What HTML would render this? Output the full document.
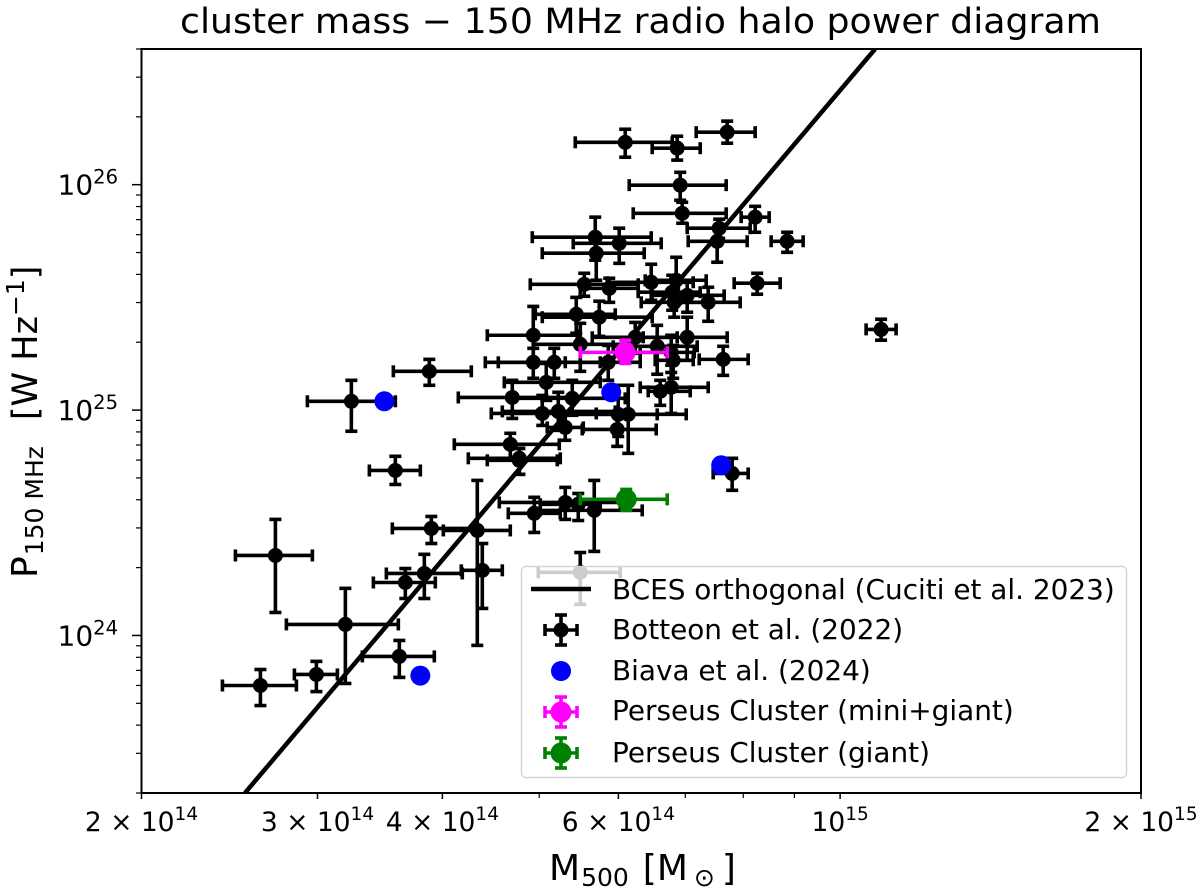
<!DOCTYPE html>
<html lang="en">
<head>
<meta charset="utf-8">
<title>cluster mass - 150 MHz radio halo power diagram</title>
<style>
html,body{margin:0;padding:0;background:#fff;width:1200px;height:891px;overflow:hidden}
svg{display:block;font-family:"DejaVu Sans",sans-serif;fill:#000}
</style>
</head>
<body>
<svg id="chart" width="1200" height="891" viewBox="0 0 1200 891" xmlns="http://www.w3.org/2000/svg">
  <defs><clipPath id="plot-clip"><rect x="141.5" y="49" width="999.5" height="744"/></clipPath></defs>
  <rect x="0" y="0" width="1200" height="891" fill="#fff"/>
  <text x="180" y="33" font-size="35" textLength="921" lengthAdjust="spacingAndGlyphs">cluster mass − 150 MHz radio halo power diagram</text>
  <g id="marks" clip-path="url(#plot-clip)"></g>
  <g id="axes"></g>
  <text x="549" y="880" font-size="36">M<tspan font-size="25" dy="6" dx="1">500</tspan><tspan dy="-6" dx="14">[M</tspan><tspan font-size="25" dy="6" dx="6">⊙</tspan><tspan dy="-6" dx="7">]</tspan></text>
  <text transform="translate(37 578) rotate(-90)" font-size="36">P<tspan font-size="25" dy="6" dx="1">150 MHz</tspan><tspan font-size="35" dy="-6" dx="26">[W Hz</tspan><tspan font-size="25" dy="-13">−1</tspan><tspan font-size="35" dy="13">]</tspan></text>
  <g id="legend">
    <rect x="521.5" y="566.5" width="605" height="211" rx="4" fill="#fff" fill-opacity="0.8" stroke="#d6d6d6" stroke-width="1.5"/>
    <g>
      <line x1="531" x2="591" y1="589" y2="589" stroke="#000" stroke-width="4.5"/>
      <text x="612" y="599" font-size="27.9">BCES orthogonal (Cuciti et al. 2023)</text>
    </g>
    <g id="legend-botteon">
      <text x="612" y="639" font-size="27.9">Botteon et al. (2022)</text>
    </g>
    <g>
      <circle cx="561" cy="671" r="10" fill="#0000ff"/>
      <text x="612" y="680" font-size="27.9">Biava et al. (2024)</text>
    </g>
    <g id="legend-mini">
      <text x="612" y="720" font-size="27.9">Perseus Cluster (mini+giant)</text>
    </g>
    <g id="legend-giant">
      <text x="612" y="762" font-size="27.9">Perseus Cluster (giant)</text>
    </g>
  </g>
</svg>
<script>
// All masses and powers are log10 values (M500 in solar masses, P150 in W/Hz).
const fitLogMass = [14.4045, 15.0350];
const fitLogPower = [23.301, 26.602];

const botteonLogMass = [14.785,14.837,14.887,14.840,14.842,14.915,14.879,14.877,14.947,14.755,14.779,14.756,14.917,14.744,14.769,14.811,14.836,14.832,14.847,14.834,14.868,14.736,14.759,14.693,14.740,14.795,14.847,14.817,14.831,14.833,14.883,14.693,14.714,15.041,14.589,14.768,14.706,14.732,14.820,14.831,14.672,14.702,14.718,14.725,14.778,14.788,14.777,14.670,14.679,14.679,14.892,14.694,14.725,14.738,14.754,14.637,14.591,14.584,14.642,14.565,14.435,14.505,14.559,14.476,14.420,14.555,14.511,14.740];
const botteonLogMassLow = [14.735,14.812,14.856,14.789,14.793,14.901,14.847,14.848,14.931,14.692,14.733,14.702,14.894,14.690,14.740,14.767,14.805,14.798,14.812,14.801,14.837,14.695,14.702,14.647,14.693,14.752,14.803,14.773,14.800,14.815,14.859,14.645,14.658,15.026,14.553,14.740,14.664,14.673,14.808,14.800,14.618,14.651,14.662,14.707,14.720,14.718,14.742,14.614,14.628,14.647,14.873,14.668,14.659,14.700,14.700,14.603,14.552,14.546,14.621,14.533,14.395,14.446,14.522,14.454,14.382,14.529,14.467,14.698];
const botteonLogMassHigh = [14.832,14.860,14.915,14.886,14.886,14.929,14.910,14.907,14.963,14.811,14.821,14.804,14.940,14.798,14.798,14.853,14.866,14.860,14.884,14.867,14.900,14.775,14.812,14.737,14.783,14.837,14.887,14.857,14.854,14.853,14.908,14.725,14.760,15.056,14.631,14.800,14.760,14.785,14.850,14.868,14.730,14.756,14.775,14.743,14.817,14.846,14.816,14.719,14.720,14.717,14.908,14.720,14.780,14.760,14.802,14.670,14.636,14.622,14.662,14.595,14.472,14.558,14.594,14.497,14.456,14.580,14.555,14.780];
const botteonLogPower = [26.188,26.162,26.233,25.998,25.873,25.856,25.807,25.749,25.749,25.767,25.740,25.696,25.563,25.558,25.540,25.567,25.576,25.523,25.509,25.478,25.478,25.425,25.412,25.332,25.292,25.323,25.323,25.283,25.256,25.221,25.225,25.212,25.212,25.358,25.172,25.212,25.123,25.052,25.083,25.101,25.056,24.985,24.994,24.923,24.981,24.981,24.914,24.848,24.786,24.777,24.719,24.542,24.590,24.582,24.555,24.466,24.475,24.275,24.289,24.235,24.355,24.049,23.907,23.827,23.778,24.732,25.039,24.280];
const botteonLogPowerLow = [26.122,26.109,26.184,25.931,25.829,25.789,25.762,25.656,25.700,25.665,25.651,25.576,25.514,25.505,25.478,25.487,25.474,25.443,25.434,25.412,25.394,25.341,25.327,25.216,25.172,25.252,25.221,25.159,25.167,25.141,25.154,25.141,25.141,25.310,25.110,25.132,25.043,24.977,25.021,24.985,24.963,24.932,24.910,24.866,24.883,24.808,24.839,24.786,24.715,24.715,24.644,24.457,24.515,24.510,24.373,23.956,24.408,24.164,24.120,24.164,24.102,23.787,23.814,23.751,23.689,24.670,24.906,24.138];
const botteonLogPowerHigh = [26.246,26.215,26.282,26.055,25.922,25.904,25.847,25.807,25.789,25.856,25.807,25.762,25.607,25.607,25.585,25.647,25.678,25.598,25.576,25.540,25.545,25.500,25.483,25.460,25.385,25.389,25.412,25.376,25.332,25.287,25.283,25.274,25.274,25.403,25.225,25.287,25.207,25.132,25.132,25.199,25.132,25.065,25.079,24.977,25.110,25.110,24.977,24.897,24.830,24.830,24.786,24.613,24.657,24.630,24.688,24.688,24.528,24.360,24.408,24.297,24.515,24.209,23.978,23.885,23.849,24.795,25.132,24.368];

const biavaLogMass = [14.544,14.771,14.881,14.580];
const biavaLogPower = [25.039,25.079,24.755,23.822];

const perseusNames = ["mini-giant","giant"];
const perseusColors = ["#ff00ff","#008000"];
const perseusLogMass = [14.785,14.786];
const perseusLogMassLow = [14.740,14.740];
const perseusLogMassHigh = [14.827,14.827];
const perseusLogPower = [25.256,24.604];
const perseusLogPowerLow = [25.207,24.555];
const perseusLogPowerHigh = [25.310,24.648];

const xMajorTicks = [14.30103,14.47712,14.60206,14.77815,15,15.30103];
const xTickPrefix = ["2 × 10","3 × 10","4 × 10","6 × 10","10","2 × 10"];
const xTickExponent = ["14","14","14","14","15","15"];
const xMinorTicks = [14.69897,14.84510,14.90309,14.95424];
const yMajorTicks = [26,25,24];
const yTickPrefix = ["10","10","10"];
const yTickExponent = ["26","25","24"];
const yMinorDigits = [2,3,4,5,6,7,8,9];
const yMinorDecades = [23,24,25,26];

const xDomain = [14.30103,15.30103];
const yDomain = [23.30103,26.60206];
function xScale(v){ return 141.5 + (v - xDomain[0]) / (xDomain[1] - xDomain[0]) * 999.5; }
function yScale(v){ return 793 - (v - yDomain[0]) / (yDomain[1] - yDomain[0]) * 744; }

const NS = "http://www.w3.org/2000/svg";
function mk(tag, parent, attrs){
  const el = document.createElementNS(NS, tag);
  for (const k in attrs) el.setAttribute(k, attrs[k]);
  parent.appendChild(el);
  return el;
}
function bars(g, cx, cy, xl, xr, yt, yb, color){
  const w = {stroke: color, "stroke-width": 3.6};
  mk("line", g, Object.assign({x1: xl, x2: xr, y1: cy, y2: cy}, w));
  mk("line", g, Object.assign({x1: cx, x2: cx, y1: yt, y2: yb}, w));
  mk("line", g, Object.assign({x1: xl, x2: xl, y1: cy - 6, y2: cy + 6}, w));
  mk("line", g, Object.assign({x1: xr, x2: xr, y1: cy - 6, y2: cy + 6}, w));
  mk("line", g, Object.assign({x1: cx - 6, x2: cx + 6, y1: yt, y2: yt}, w));
  mk("line", g, Object.assign({x1: cx - 6, x2: cx + 6, y1: yb, y2: yb}, w));
}

const marks = document.getElementById("marks");
const fitLine = mk("line", marks, {x1: xScale(fitLogMass[0]), x2: xScale(fitLogMass[1]), y1: yScale(fitLogPower[0]), y2: yScale(fitLogPower[1]), stroke: "#000", "stroke-width": 4.5});



botteonLogMass.forEach(function(m, i){
  const g = mk("g", marks, {});
  
  
  const cx = xScale(m), cy = yScale(botteonLogPower[i]);
  bars(g, cx, cy, xScale(botteonLogMassLow[i]), xScale(botteonLogMassHigh[i]), yScale(botteonLogPowerHigh[i]), yScale(botteonLogPowerLow[i]), "#000");
  mk("circle", g, {cx: cx, cy: cy, r: 7.5, fill: "#000"});
});

biavaLogMass.forEach(function(m, i){
  const c = mk("circle", marks, {cx: xScale(m), cy: yScale(biavaLogPower[i]), r: 10, fill: "#0000ff"});
  
  
});

perseusLogMass.forEach(function(m, i){
  const g = mk("g", marks, {});
  
  
  const cx = xScale(m), cy = yScale(perseusLogPower[i]);
  bars(g, cx, cy, xScale(perseusLogMassLow[i]), xScale(perseusLogMassHigh[i]), yScale(perseusLogPowerHigh[i]), yScale(perseusLogPowerLow[i]), perseusColors[i]);
  mk("circle", g, {cx: cx, cy: cy, r: 10.5, fill: perseusColors[i]});
});

// Legend handles for the error-bar series
function legendHandle(id, cy, color, r, name){
  const g = mk("g", document.getElementById(id), {});
  
  
  bars(g, 561, cy, 545, 577, cy - 15, cy + 15, color);
  mk("circle", g, {cx: 561, cy: cy, r: r, fill: color});
}
legendHandle("legend-botteon", 630, "#000", 7.5, "legend-marker-botteon");
legendHandle("legend-mini", 712, perseusColors[0], 10.5, "legend-marker-perseus-mini-giant");
legendHandle("legend-giant", 753, perseusColors[1], 10.5, "legend-marker-perseus-giant");

// Axes
const axes = document.getElementById("axes");
const frame = mk("rect", axes, {x: 141.5, y: 49, width: 999.5, height: 744, fill: "none", stroke: "#000", "stroke-width": 2});



xMajorTicks.forEach(function(v, i){
  const x = xScale(v);
  const tick = mk("line", axes, {x1: x, x2: x, y1: 793, y2: 799, stroke: "#000", "stroke-width": 1.5});
  
  
  const label = mk("text", axes, {x: x, y: 831, "text-anchor": "middle", "font-size": 26.5});
  
  
  label.appendChild(document.createTextNode(xTickPrefix[i]));
  const sup = mk("tspan", label, {"font-size": 18.5, dy: -11});
  sup.textContent = xTickExponent[i];
});
xMinorTicks.forEach(function(v){
  const x = xScale(v);
  const tick = mk("line", axes, {x1: x, x2: x, y1: 793, y2: 798, stroke: "#000", "stroke-width": 1.2});
  
  
});
yMajorTicks.forEach(function(v, i){
  const y = yScale(v);
  const tick = mk("line", axes, {x1: 132, x2: 141.5, y1: y, y2: y, stroke: "#000", "stroke-width": 1.5});
  
  
  const label = mk("text", axes, {x: 118, y: y + 10, "text-anchor": "end", "font-size": 28});
  
  
  label.appendChild(document.createTextNode(yTickPrefix[i]));
  const sup = mk("tspan", label, {"font-size": 19.5, dy: -11});
  sup.textContent = yTickExponent[i];
});
yMinorDecades.forEach(function(d){
  yMinorDigits.forEach(function(k){
    const v = d + Math.log10(k);
    if (v < yDomain[0] - 1e-6 || v > yDomain[1] + 1e-6) return;
    const y = yScale(v);
    const tick = mk("line", axes, {x1: 136, x2: 141.5, y1: y, y2: y, stroke: "#000", "stroke-width": 1.2});
    
    
  });
});
</script>
</body>
</html>
